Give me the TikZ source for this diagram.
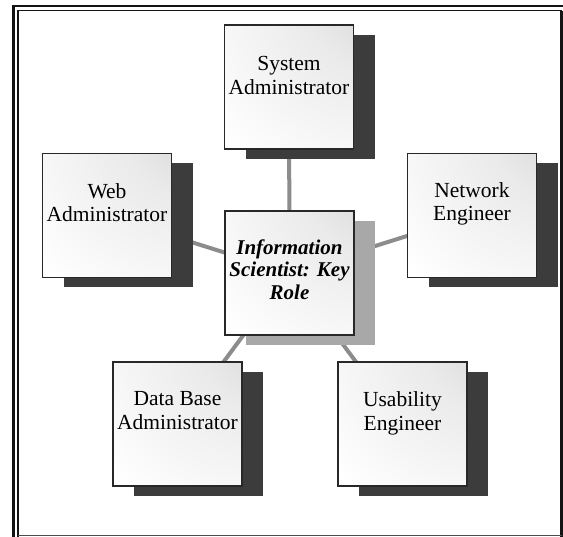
\documentclass[tikz,border=0pt]{standalone}
\usepackage{fontspec}
\setmainfont{Liberation Serif}
\usetikzlibrary{shadows}
\definecolor{boxtop}{RGB}{208,208,208}
\definecolor{boxmid}{RGB}{234,234,234}
\definecolor{shadowdark}{RGB}{60,60,60}
\definecolor{shadowlight}{RGB}{168,168,168}
\definecolor{conncol}{RGB}{140,140,140}
\definecolor{boxedge}{RGB}{40,40,40}
\definecolor{framecol}{RGB}{20,20,20}
\pgfdeclareradialshading{boxshade}{\pgfqpoint{42bp}{42bp}}{color(0bp)=(boxtop); color(28bp)=(boxmid); color(68bp)=(white); color(170bp)=(white)}
\pgfdeclarelayer{bg}
\pgfsetlayers{bg,main}
\tikzset{
  box/.style={rectangle, draw=boxedge, line width=1.1pt, shade, shading=boxshade,
    minimum width=129pt, minimum height=124pt, inner sep=0pt},
  darkshadow/.style={drop shadow={shadow xshift=21pt, shadow yshift=-10pt, shadow scale=1, fill=shadowdark, opacity=1}},
  lightshadow/.style={drop shadow={shadow xshift=21pt, shadow yshift=-10pt, shadow scale=1, fill=shadowlight, opacity=1}},
  txt/.style={anchor=north, inner sep=0pt, align=center, font=\fontsize{21.5}{23.5}\selectfont},
  ctrtxt/.style={anchor=north, inner sep=0pt, align=center, font=\fontsize{21}{22.5}\selectfont\bfseries\itshape},
  conn/.style={draw=conncol, line width=4pt}
}
\begin{document}
\begin{tikzpicture}[x=1pt,y=-1pt]
\useasboundingbox (0,0) rectangle (563,537);
% page frame
\draw[framecol, line width=2.6pt] (13.7,537) -- (13.7,6.2) -- (563,6.2);
\draw[framecol, line width=1.4pt] (18,537) -- (18,10.7) -- (561.5,10.7);
\draw[framecol, line width=2.4pt] (561.5,10.7) -- (561.5,537);
\draw[black!70, line width=1.4pt] (18,535.7) -- (561.5,535.7);
% boxes
\node[box, darkshadow] (sys) at (289,87) {};
\node[box, darkshadow] (web) at (107,215.5) {};
\node[box, darkshadow] (net) at (472,215.5) {};
\node[box, lightshadow] (ctr) at (289.5,273) {};
\node[box, darkshadow] (db) at (177.5,424) {};
\node[box, darkshadow] (usa) at (402.5,424) {};
% texts
\node[txt] (sysT) at ([yshift=-32pt]sys.north) {System\\Administrator};
\node[txt] (webT) at ([yshift=-30pt]web.north) {Web\\Administrator};
\node[txt] (netT) at ([yshift=-29pt]net.north) {Network\\Engineer};
\node[ctrtxt] (ctrT) at ([yshift=-29pt]ctr.north) {Information\\Scientist: Key\\Role};
\node[txt] (dbT) at ([yshift=-30pt]db.north) {Data Base\\Administrator};
\node[txt] (usaT) at ([yshift=-30pt]usa.north) {Usability\\Engineer};
% connectors
\begin{pgfonlayer}{bg}
\draw[conn] (ctr.center) -- (sys.center);
\draw[conn] (ctr.center) -- (web.center);
\draw[conn] (ctr.center) -- (net.center);
\draw[conn] (ctr.center) -- (db.center);
\draw[conn] (ctr.center) -- (usa.center);
\end{pgfonlayer}
\end{tikzpicture}
\end{document}
